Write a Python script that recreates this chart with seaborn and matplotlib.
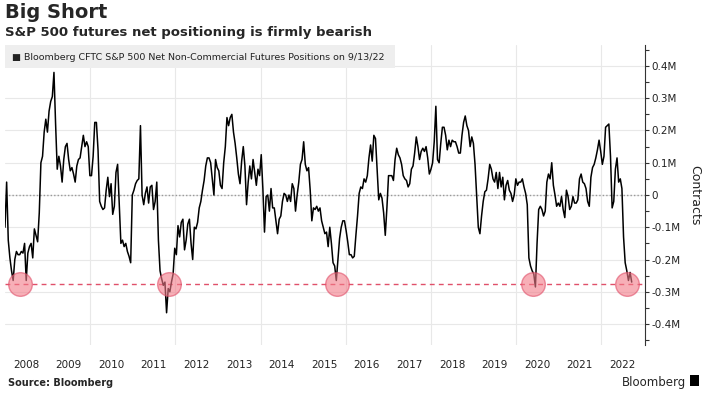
import pandas as pd
import matplotlib
matplotlib.use("Agg")
import matplotlib.pyplot as plt
import matplotlib.dates as mdates
from matplotlib.patches import Rectangle
from matplotlib.ticker import FuncFormatter
import seaborn as sns

sns.set_theme(style="white")
plt.rcParams["font.family"] = ["DejaVu Sans"]

# -----------------------------
# Data (net positions, thousands of contracts, every 14 days from Jan 2008)
# -----------------------------
start_date = "2008-01-01"
net_k = [
    -100, 40, -140, -195, -235, -265, -200, -175, -185, -185,
    -175, -180, -150, -265, -180, -160, -150, -195, -105, -125,
    -145, -55, 100, 120, 195, 235, 195, 260, 290, 305,
    380, 220, 80, 120, 90, 40, 110, 150, 160, 110,
    75, 85, 65, 40, 90, 110, 115, 150, 185, 150,
    165, 150, 60, 60, 120, 225, 225, 140, -20, -35,
    -45, -40, 15, 55, -5, 35, -60, -35, 70, 95,
    -30, -150, -140, -160, -150, -175, -190, -210, 0, 15,
    35, 45, 50, 215, 0, -30, 5, 25, -25, 25,
    30, -45, -20, 40, -140, -235, -260, -280, -270, -365,
    -290, -300, -270, -245, -165, -185, -95, -130, -85, -75,
    -170, -140, -90, -75, -150, -200, -100, -105, -85, -40,
    -20, 15, 45, 90, 115, 115, 100, 50, 0, 110,
    85, 75, 30, 20, 100, 150, 240, 215, 240, 250,
    195, 160, 115, 65, 35, 105, 150, 90, -30, 40,
    90, 50, 110, 70, 30, 80, 60, 125, 20, -115,
    -5, 0, -50, 20, -40, -40, -80, -120, -75, -65,
    -20, 5, 0, -20, 0, -20, 35, 20, -50, 0,
    40, 95, 110, 165, 95, 75, 85, 15, -80, -40,
    -45, -35, -50, -40, -80, -100, -120, -115, -160, -100,
    -150, -210, -220, -265, -200, -135, -100, -80, -80, -110,
    -145, -185, -185, -195, -190, -125, -65, 5, 25, 20,
    50, 40, 60, 115, 155, 105, 185, 175, 80, -15,
    5, -10, -55, -125, -40, 60, 60, 60, 45, 110,
    145, 125, 115, 95, 60, 50, 45, 25, 35, 80,
    90, 130, 180, 150, 110, 135, 145, 135, 150, 115,
    65, 80, 100, 165, 275, 110, 100, 160, 210, 210,
    185, 140, 170, 150, 170, 165, 165, 150, 130, 130,
    185, 225, 245, 215, 200, 150, 180, 160, 95, -5,
    -100, -120, -65, -20, 10, 15, 50, 95, 80, 50,
    40, 70, 20, 70, 25, 55, -15, 30, 45, 15,
    5, -20, 0, 50, 30, 40, 40, 50, 25, 5,
    -30, -195, -220, -235, -245, -285, -150, -45, -35, -45,
    -65, -50, 40, 65, 50, 100, 30, 0, -35, -25,
    -35, -5, -45, -70, 15, -5, -45, -35, -5, -25,
    -25, -15, 50, 65, 40, 35, 20, -20, -35, 55,
    85, 95, 115, 140, 170, 135, 95, 120, 210, 215,
    220, 120, -40, -20, 80, 115, 40, 50, 20, -130,
    -210, -235, -265, -240, -270,
]

extreme_dates = ["2008-05-05", "2011-11-04", "2015-10-18", "2020-05-30", "2022-08-09"]
extreme_level = -277

years = list(range(2008, 2023))
grid_years = list(range(2010, 2023, 2))

dates = pd.date_range(start_date, periods=len(net_k), freq="14D")
df = pd.DataFrame({"date": dates, "net": net_k})
marks = pd.DataFrame({"date": pd.to_datetime(extreme_dates),
                      "level": [extreme_level] * len(extreme_dates)})

# -----------------------------
# Figure
# -----------------------------
W, H = 706, 398
fig = plt.figure(figsize=(W / 100, H / 100), dpi=100)
ax = fig.add_axes([5 / W, 1 - 345 / H, 640 / W, 300 / H])

sns.lineplot(data=df, x="date", y="net", color="black", lw=1.1, ax=ax, zorder=3)
ax.axhline(0, color="#9a9a9a", lw=1, ls=(0, (1, 1.5)), zorder=2)
ax.axhline(extreme_level, color="#e0506a", lw=1, ls=(0, (3.5, 3)), zorder=2)
sns.scatterplot(data=marks, x="date", y="level", s=290, color="#f27a88", alpha=0.6,
                edgecolor="#e0506a", linewidth=1, legend=False, ax=ax, zorder=4)

ax.set_xlim(dates[0], pd.Timestamp("2023-01-12"))
ax.set_ylim(-465, 465)

# y axis on the right
ax.yaxis.tick_right()
ax.yaxis.set_label_position("right")
ax.set_yticks(range(-400, 401, 100))
ax.set_yticks(range(-450, 451, 50), minor=True)
ax.yaxis.set_major_formatter(FuncFormatter(lambda v, _: "0" if v == 0 else f"{v / 1000:.1f}M"))
ax.tick_params(axis="y", which="both", direction="out", length=3, width=0.8,
               color="#333333", pad=1.5, labelsize=7.5, labelcolor="#222222")
ax.grid(axis="y", which="major", color="#e8e8e8", lw=0.8)
ax.set_ylabel("Contracts", rotation=270, labelpad=15, fontsize=9, color="#222222")

# x axis: gridlines at even-year boundaries, labels mid-year
ax.set_xticks(mdates.date2num(pd.to_datetime([f"{y}-01-01" for y in grid_years])))
ax.set_xticklabels([])
ax.set_xticks(mdates.date2num(pd.to_datetime([f"{y}-07-01" for y in years])), minor=True)
ax.set_xticklabels([str(y) for y in years], minor=True)
ax.tick_params(axis="x", which="both", length=0)
ax.tick_params(axis="x", which="minor", pad=11, labelsize=7.5, labelcolor="#222222")
ax.grid(axis="x", which="major", color="#e8e8e8", lw=0.8)
ax.set_xlabel("")

for s in ["left", "top", "bottom"]:
    ax.spines[s].set_visible(False)
ax.spines["right"].set_color("#333333")
ax.spines["right"].set_linewidth(0.8)

# legend box
fig.add_artist(Rectangle((5 / W, 1 - 68 / H), 390 / W, 23 / H, transform=fig.transFigure,
                         facecolor="#eeeeee", edgecolor="none", zorder=5))
fig.text(12 / W, 1 - 60 / H,
         "■ Bloomberg CFTC S&P 500 Net Non-Commercial Futures Positions on 9/13/22",
         fontsize=6.8, va="baseline", color="#222222", zorder=6)

# titles
fig.text(5 / W, 1 - 18.5 / H, "Big Short", fontsize=14, fontweight="bold", va="baseline")
fig.text(5 / W, 1 - 36 / H, "S&P 500 futures net positioning is firmly bearish",
         fontsize=9.5, fontweight="bold", va="baseline")

# footer
fig.text(8 / W, 1 - 386 / H, "Source: Bloomberg", fontsize=7, fontweight="bold", va="baseline")
fig.text(686 / W, 1 - 386 / H, "Bloomberg", fontsize=8.5, ha="right", va="baseline")
fig.add_artist(Rectangle((690 / W, 1 - 386 / H), 9 / W, 11 / H, transform=fig.transFigure,
                         facecolor="black", edgecolor="none"))

fig.savefig("out.png", dpi=100)
